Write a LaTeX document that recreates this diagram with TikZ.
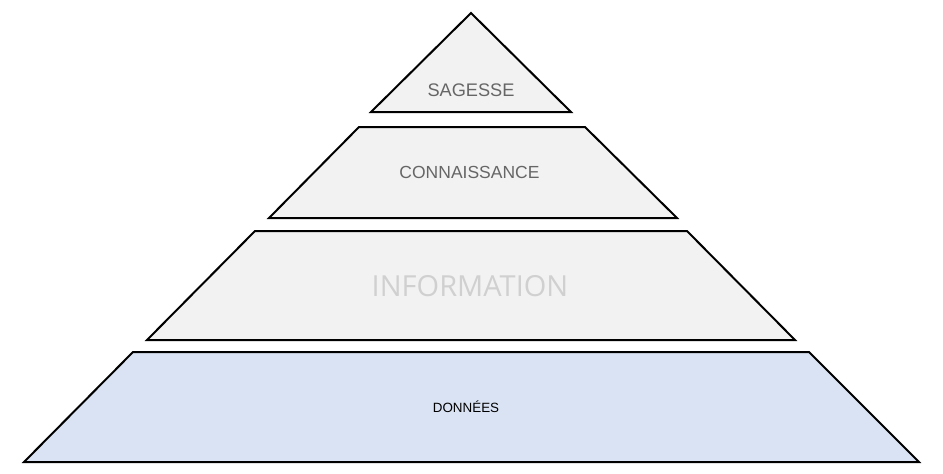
\documentclass[tikz,border=0pt]{standalone}
\usepackage{fontspec}
\setmainfont{Liberation Sans}
\newfontfamily\opensans{Open Sans}
\definecolor{layergray}{HTML}{F2F2F2}
\definecolor{layerblue}{HTML}{DAE3F3}
\definecolor{textgray}{HTML}{666666}
\definecolor{palegray}{HTML}{D0D0D0}
\begin{document}
\begin{tikzpicture}[x=1pt, y=-1pt, layer/.style={draw=black, line width=2pt, line join=miter, fill=layergray}, tag/.style={font=\fontsize{17.5}{20}\selectfont, text=textgray}]
            \useasboundingbox (0,0) rectangle (943,474);

              % sagesse
              \draw[layer] (471,13) -- (571,112) -- (371,112) -- cycle;
              % connaissance
              \draw[layer] (359,127) -- (585,127) -- (677,218) -- (269,218) -- cycle;
              % information
              \draw[layer] (255,231) -- (687,231) -- (795,340) -- (147,340) -- cycle;
              % donnees
              \draw[layer, fill=layerblue] (133,352) -- (809,352) -- (919,462) -- (24,462) -- cycle;

              \node[tag, font=\fontsize{18.2}{21}\selectfont] (sagesse) at (471,90) {SAGESSE};
              \node[tag] (connaissance) at (469.5,172) {CONNAISSANCE};
              \node[tag, font=\opensans\fontsize{29}{32}\selectfont, text=palegray] (information) at (470,286) {INFORMATION};
              \node[tag, font=\fontsize{13.4}{15}\selectfont, text=black] (donnees) at (466,407) {DONNÉES};

            \end{tikzpicture}
\end{document}
